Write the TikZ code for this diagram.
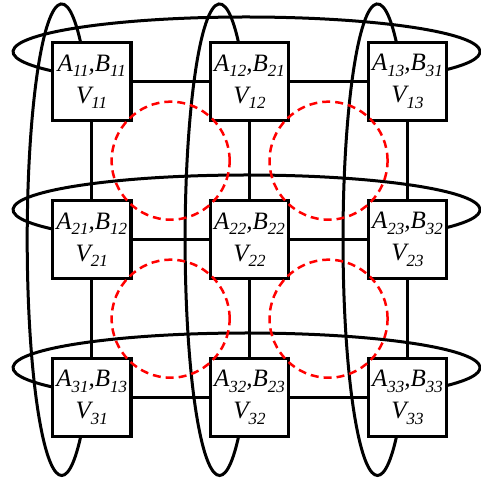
\documentclass[tikz,border=0pt]{standalone}
\usepackage{fontspec}
\setmainfont{Liberation Serif}
\usepackage{xcolor}
\usepackage{tikz}
\usetikzlibrary{calc}

\newcommand{\idx}[1]{\raisebox{-0.5ex}{\fontsize{8.5}{9}\selectfont #1}}

\begin{document}
\begin{tikzpicture}[
  x=0.5pt,
  y=0.5pt,
  cell/.style={draw, fill=white, line width=1.6pt, minimum size=39.2pt, inner sep=0pt,
    align=center, font=\fontsize{12.5}{16}\selectfont\itshape},
  link/.style={line width=1.6pt},
  loop/.style={line width=1.5pt},
  ring/.style={red, dash pattern=on 4pt off 2.5pt, line width=1.25pt},
]
\path[use as bounding box] (0,0) rectangle (481,482);

% Layout.
\def\xgap{157.9} % units between columns
\def\ygap{158}   % units between rows
\def\xone{91.7}
\def\yone{400.3}

% Row loops (only the part outside the boxes shows).
\foreach \r in {1,2,3} {
  \pgfmathsetmacro{\yy}{\yone - (\r-1)*\ygap + 30}
  \draw[loop] (246.5,\yy) ++(218:233.5 and 34.7)
    arc[start angle=218, end angle=-35, x radius=233.5, y radius=34.7];
}

% Column loops.
\foreach \c in {1,2,3} {
  \pgfmathsetmacro{\xx}{\xone + (\c-1)*\xgap - 30}
  \draw[loop] (\xx,242.3) ++(52:34.5 and 235.8)
    arc[start angle=52, end angle=308, x radius=34.5, y radius=235.8];
}

% Cells.
\foreach \i in {1,2,3} {
  \foreach \j in {1,2,3} {
    \pgfmathsetmacro{\xx}{\xone + (\j-1)*\xgap}
    \pgfmathsetmacro{\yy}{\yone - (\i-1)*\ygap}
    \node[cell] (v\i\j) at (\xx,\yy) {A\idx{\i\j},B\idx{\j\i}\\V\idx{\i\j}};
  }
}

% Grid links.
\foreach \i in {1,2,3} {
  \draw[link] (v\i1) -- (v\i2);
  \draw[link] (v\i2) -- (v\i3);
  \draw[link] (v1\i) -- (v2\i);
  \draw[link] (v2\i) -- (v3\i);
}

% Dashed rings between cells.
\draw[ring] ($(v11)!0.5!(v22)$) circle (59);
\draw[ring] ($(v12)!0.5!(v23)$) circle (59);
\draw[ring] ($(v21)!0.5!(v32)$) circle (59);
\draw[ring] ($(v22)!0.5!(v33)$) circle (59);

\end{tikzpicture}
\end{document}
